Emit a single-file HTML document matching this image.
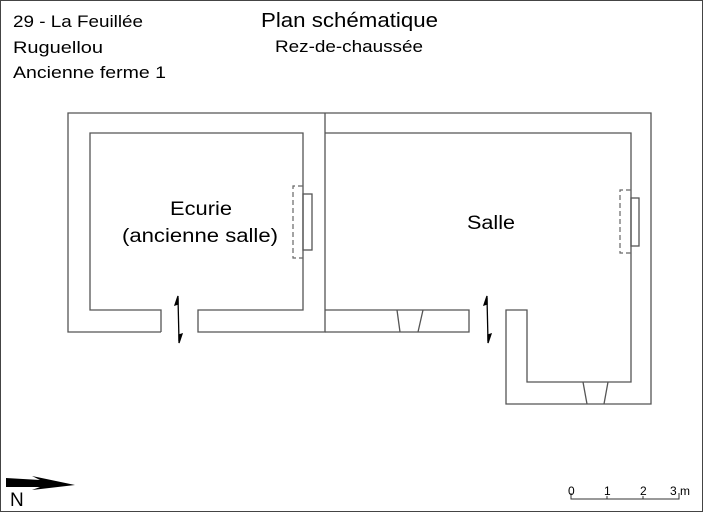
<!DOCTYPE html>
<html><head><meta charset="utf-8"><style>html,body{margin:0;padding:0;background:#fff}svg{display:block}</style></head>
<body>
<svg width="703" height="512" viewBox="0 0 703 512" xmlns="http://www.w3.org/2000/svg" font-family="Liberation Sans, sans-serif">
<rect x="0.5" y="0.5" width="702" height="511" fill="#fff" stroke="#444" stroke-width="1"/>
<g fill="#000">
<text x="13" y="27" font-size="17" textLength="130" lengthAdjust="spacingAndGlyphs">29 - La Feuillée</text>
<text x="13" y="53" font-size="17" textLength="90" lengthAdjust="spacingAndGlyphs">Ruguellou</text>
<text x="13" y="78" font-size="17" textLength="153" lengthAdjust="spacingAndGlyphs">Ancienne ferme 1</text>
<text x="261" y="27" font-size="20" textLength="177" lengthAdjust="spacingAndGlyphs">Plan schématique</text>
<text x="275" y="52" font-size="17" textLength="148" lengthAdjust="spacingAndGlyphs">Rez-de-chaussée</text>
<text x="170" y="215" font-size="19" textLength="62" lengthAdjust="spacingAndGlyphs">Ecurie</text>
<text x="122" y="242" font-size="19" textLength="156" lengthAdjust="spacingAndGlyphs">(ancienne salle)</text>
<text x="467" y="229" font-size="19" textLength="48" lengthAdjust="spacingAndGlyphs">Salle</text>
</g>
<g fill="none" stroke="#555" stroke-width="1.3">
<path d="M161,332 L68,332 L68,113 L651,113 L651,404 L506,404 L506,310 L527,310 L527,382 L631,382 L631,133 L325,133"/>
<path d="M161,332 L161,310 L90,310 L90,133 L303,133 L303,310 L198,310 L198,332 L325,332 L325,113"/>
<path d="M325,310 L469,310 L469,332 L325,332"/>
<path d="M397,310 L400,332 M423,310 L418,332"/>
<path d="M583,382 L587,404 M608,382 L604,404"/>
<rect x="303" y="194" width="9" height="56"/>
<rect x="631" y="198" width="8" height="48"/>
</g>
<g fill="none" stroke="#666" stroke-width="1.2" stroke-dasharray="5,3">
<path d="M303,186 L293,186 L293,258 L303,258"/>
<path d="M631,190 L620,190 L620,253 L631,253"/>
</g>
<g stroke="#000" stroke-width="1.3" fill="#000">
<line x1="178" y1="298" x2="179" y2="341"/>
<path d="M178,296 L175,305 L178,304 Z"/>
<path d="M179,343 L182,334 L179,335 Z"/>
<line x1="487" y1="298" x2="488" y2="341"/>
<path d="M487,296 L484,305 L487,304 Z"/>
<path d="M488,343 L491,334 L488,335 Z"/>
</g>
<path d="M6,478 L40,480 L32,476 L75,485 L32,490 L40,487 L6,487 Z" fill="#000"/>
<text x="10" y="506" font-size="19" fill="#000">N</text>
<g stroke="#333" stroke-width="1" fill="none">
<path d="M571,493 L571,499 L679,499 L679,493 M607,496 L607,499 M643,496 L643,499"/>
</g>
<g font-size="12" fill="#000">
<text x="568" y="495">0</text><text x="604" y="495">1</text><text x="640" y="495">2</text><text x="670" y="495">3</text><text x="680" y="495">m</text>
</g>
</svg>
</body></html>
